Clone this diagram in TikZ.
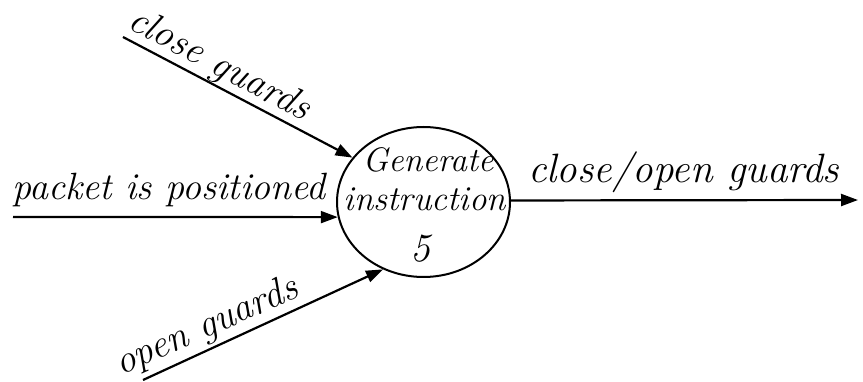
\documentclass[tikz,border=0pt]{standalone}
\usepackage{fontspec}
\usetikzlibrary{arrows.meta,shapes.geometric}
\tikzset{
  proc/.style={draw, ellipse, line width=2pt, minimum width=173pt, minimum height=150pt, inner sep=0pt},
  flow/.style={line width=2.2pt, -{Triangle[length=17pt,width=12pt]}},
  ptxt/.style={inner sep=0pt, anchor=base},
  lbl/.style={inner sep=0pt, anchor=base west},
}
\newcommand\hsz[1]{\fontsize{#1}{#1}\selectfont\itshape}
\begin{document}
\begin{tikzpicture}[x=1pt,y=-1pt]
\useasboundingbox (0,0) rectangle (863,382);
\node[proc] (p) at (423.5,202) {};
\node[ptxt, font=\hsz{34}] (g) at (428,172) {Generate};
\node[ptxt, font=\hsz{35}] (i) at (425,211) {instruction};
\node[ptxt, font=\hsz{40}] (n) at (420,262) {5};
\coordinate (cg) at (123,37);
\coordinate (pp) at (13,217);
\coordinate (og) at (143,380);
\coordinate (out) at (858,200);
\draw[flow] (cg) -- (p.148);
\draw[flow] (pp) -- (p.190);
\draw[flow] (og) -- (p.239);
\draw[flow] (p.1) -- (out);
\node[lbl, font=\hsz{39}, rotate=-28] (l1) at (126,27) {close guards};
\node[lbl, font=\hsz{38}] (l2) at (12,200) {packet is positioned};
\node[lbl, font=\hsz{39}, rotate=24] (l3) at (121,376) {open guards};
\node[lbl, font=\hsz{41}] (l4) at (528,183) {close/open guards};
\end{tikzpicture}
\end{document}
